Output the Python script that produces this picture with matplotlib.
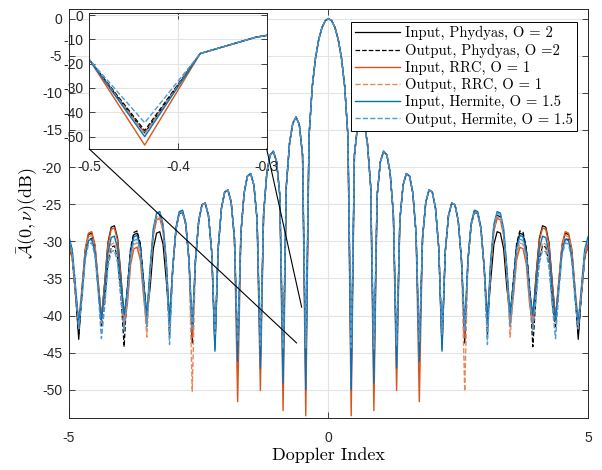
import numpy as np
import matplotlib
matplotlib.use("Agg")
import matplotlib.pyplot as plt
from matplotlib.patches import ConnectionPatch

plt.rcParams['font.family'] = ['Liberation Sans', 'DejaVu Sans']
plt.rcParams['mathtext.fontset'] = 'cm'
plt.rcParams['axes.unicode_minus'] = False

# ── Data ────────────────────────────────────────────────────────────────────
# Doppler samples: step 1/16 from -5 to 5
doppler = np.linspace(-5, 5, 161)

# Values for the samples nu >= 0 (0 .. 80); the figure is symmetric about 0.
# Inner part (samples 0..41) is shared by all curves except the null depths (None).
inner_db = [0.0, -0.29, -1.20, -2.81, -5.30, -9.16, -15.86, None,
            -18.36, -14.26, -13.26, -14.09, -16.76, -22.57, None,
            -23.82, -19.26, -17.87, -18.37, -20.75, -26.31, None,
            -27.14, -22.41, -20.87, -21.22, -23.48, -28.92, None,
            -29.54, -24.72, -23.09, -23.36, -25.55, -30.92, None,
            -31.42, -26.54, -24.86, -25.08, -27.22, -32.55]

# depth of the inner nulls (samples 7, 14, 21, 28, 35)
null_phy_in = [-48.5, -47.5, -46.0, -45.5, -44.0]
null_phy_out = [-47.5, -46.5, -45.5, -45.0, -43.5]
null_rrc_in = [-53.5, -52.8, -50.1, -51.6, -44.5]
null_rrc_out = [-48.8, -48.0, -46.5, -45.8, -44.3]
null_her_in = [-50.0, -49.1, -47.1, -46.2, -44.8]
null_her_out = [-44.3, -44.5, -44.0, -43.5, -42.5]

# outer part, samples 42..80
outer_phy_in = [-43.7, -32.6, -27.7, -26.0, -26.2, -28.3, -33.6,
                -41.0, -35.3, -30.4, -28.7, -28.9, -31.0, -36.3,
                -40.0, -35.5, -30.6, -28.9, -29.1, -31.2, -36.5,
                -40.3, -34.5, -29.6, -27.9, -28.1, -30.2, -35.5,
                -40.5, -35.5, -30.6, -28.9, -29.1, -31.2, -36.5,
                -43.2, -36.8, -31.9, -30.2]
outer_phy_out = [-43.0, -32.7, -27.8, -26.1, -26.3, -28.4, -33.7,
                 -42.9, -33.1, -28.2, -26.5, -26.7, -28.8, -34.1,
                 -40.5, -35.2, -30.3, -28.6, -28.8, -30.9, -36.2,
                 -44.2, -37.2, -32.3, -30.6, -30.8, -32.9, -38.2,
                 -41.5, -36.2, -31.3, -29.6, -29.8, -31.9, -37.2,
                 -42.5, -37.2, -32.3, -30.6]
outer_rrc_in = [-43.0, -32.5, -27.6, -25.9, -26.1, -28.2, -33.5,
                -40.5, -33.5, -28.6, -26.9, -27.1, -29.2, -34.5,
                -41.5, -37.4, -32.5, -30.8, -31.0, -33.1, -38.4,
                -41.5, -34.8, -29.9, -28.2, -28.4, -30.5, -35.8,
                -40.2, -35.3, -30.4, -28.7, -28.9, -31.0, -36.3,
                -40.8, -37.1, -32.2, -30.5]
outer_rrc_out = [-50.2, -32.6, -27.7, -26.0, -26.2, -28.3, -33.6,
                 -41.5, -33.3, -28.4, -26.7, -26.9, -29.0, -34.3,
                 -42.9, -36.8, -31.9, -30.2, -30.4, -32.5, -37.8,
                 -40.8, -36.8, -31.9, -30.2, -30.4, -32.5, -37.8,
                 -41.0, -35.8, -30.9, -29.2, -29.4, -31.5, -36.8,
                 -41.5, -36.6, -31.7, -30.0]
outer_her_in = [-41.5, -32.4, -27.5, -25.8, -26.0, -28.1, -33.4,
                -41.0, -32.6, -27.7, -26.0, -26.2, -28.3, -33.6,
                -40.0, -35.8, -30.9, -29.2, -29.4, -31.5, -36.8,
                -39.8, -35.9, -31.0, -29.3, -29.5, -31.6, -36.9,
                -40.6, -36.3, -31.4, -29.7, -29.9, -32.0, -37.3,
                -41.0, -36.0, -31.1, -29.4]
outer_her_out = [-42.0, -32.6, -27.7, -26.0, -26.2, -28.3, -33.6,
                 -43.9, -32.8, -27.9, -26.2, -26.4, -28.5, -33.8,
                 -41.5, -36.3, -31.4, -29.7, -29.9, -32.0, -37.3,
                 -42.0, -37.8, -32.9, -31.2, -31.4, -33.5, -38.8,
                 -43.1, -36.8, -31.9, -30.2, -30.4, -32.5, -37.8,
                 -41.8, -36.4, -31.5, -29.8]

labels = ["Input, Phydyas, O = 2", "Output, Phydyas, O =2",
          "Input, RRC, O = 1", "Output, RRC, O = 1",
          "Input, Hermite, O = 1.5", "Output, Hermite, O = 1.5"]


def build_curve(nulls, outer):
    """Fill the inner nulls, append the outer part and mirror to nu < 0."""
    it = iter(nulls)
    half = [next(it) if v is None else v for v in inner_db] + list(outer)
    half = np.array(half)
    return np.concatenate([half[:0:-1], half])


curves = [build_curve(null_phy_in, outer_phy_in),
          build_curve(null_phy_out, outer_phy_out),
          build_curve(null_rrc_in, outer_rrc_in),
          build_curve(null_rrc_out, outer_rrc_out),
          build_curve(null_her_in, outer_her_in),
          build_curve(null_her_out, outer_her_out)]

styles = [dict(color='k', ls='-', lw=0.9),
          dict(color='k', ls='--', lw=0.9),
          dict(color='#D95319', ls='-', lw=1.0),
          dict(color='#E8885A', ls='--', lw=1.0),
          dict(color='#0072BD', ls='-', lw=1.0),
          dict(color='#4A9AD4', ls='--', lw=1.0)]

axis_gray = '#262626'

# ── Figure ───────────────────────────────────────────────────────────────────
fig = plt.figure(figsize=(6.02, 4.70), dpi=100)
ax = fig.add_axes([0.1146, 0.1106, 0.8621, 0.8696])

for y, st, lab in zip(curves, styles, labels):
    ax.plot(doppler, y, label=lab, **st)

ax.set_xlim(-5, 5)
ax.set_ylim(-53.8, 1.25)
ax.set_xticks([-5, 0, 5])
ax.set_yticks(np.arange(-50, 1, 5))
ax.grid(True, color='#e3e3e3', lw=0.8)
ax.set_axisbelow(True)
ax.tick_params(direction='in', length=4, width=0.6, top=True, right=True,
               labelsize=10, colors=axis_gray)
ax.tick_params(axis='x', pad=9)
ax.tick_params(axis='y', pad=5)
for sp in ax.spines.values():
    sp.set_color(axis_gray)
    sp.set_linewidth(0.7)

ax.set_xlabel('Doppler Index', fontfamily='cmr10', fontsize=13, labelpad=2)
ax.set_ylabel(r'$\bar{\mathcal{A}}(0,\nu)$(dB)', fontfamily='cmr10',
              fontsize=13, labelpad=1)

leg = ax.legend(loc='upper right', bbox_to_anchor=(0.979, 0.970),
                borderaxespad=0, prop={'family': 'cmr10', 'size': 10.5},
                handlelength=3.1, handletextpad=0.3, labelspacing=0.22,
                borderpad=0.3, fancybox=False, framealpha=1)
leg.get_frame().set_edgecolor('k')
leg.get_frame().set_linewidth(0.7)

# ── Inset (zoom on the first null) ──────────────────────────────────────────
ins = fig.add_axes([0.1483, 0.683, 0.2947, 0.290])
for y, st in zip(curves, styles):
    ins.plot(doppler, y, **st)
ins.set_xlim(-0.5, -0.3)
ins.set_ylim(-55.1, 0.95)
ins.set_xticks([-0.5, -0.4, -0.3])
ins.set_yticks(np.arange(-50, 1, 10))
ins.grid(True, color='#e3e3e3', lw=0.8)
ins.set_axisbelow(True)
ins.tick_params(direction='in', length=4, width=0.6, top=True, right=True,
                labelsize=10, colors=axis_gray)
ins.tick_params(axis='x', pad=8)
ins.tick_params(axis='y', pad=4)
for sp in ins.spines.values():
    sp.set_color(axis_gray)
    sp.set_linewidth(0.7)

# connector lines from the inset corners down to the zoomed region
zoom_left_end = (-0.613, -43.7)
zoom_right_end = (-0.516, -38.9)
for corner, end in [((0, 0), zoom_left_end), ((1, 0), zoom_right_end)]:
    con = ConnectionPatch(xyA=corner, coordsA=ins.transAxes,
                          xyB=end, coordsB=ax.transData,
                          color='k', lw=0.8)
    fig.add_artist(con)

fig.savefig('out.png', dpi=100)
